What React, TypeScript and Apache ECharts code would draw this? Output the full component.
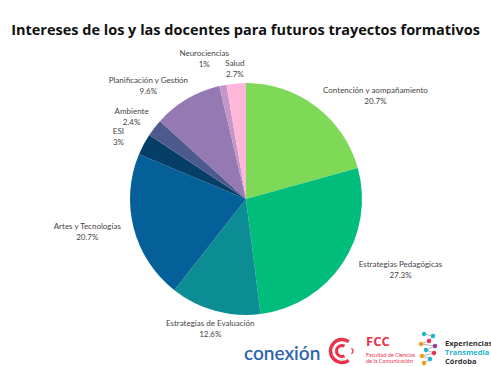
import React, { useEffect, useRef } from "react";
import * as echarts from "echarts";

const TITLE = "Intereses de los y las docentes para futuros trayectos formativos";
const categories = [
  "Contención y aompañamiento",
  "Estrategias Pedagógicas",
  "Estrategias de Evaluación",
  "Artes y Tecnologías",
  "ESI",
  "Ambiente",
  "Planificación y Gestión",
  "Neurociencias",
  "Salud",
];
const values = [20.7, 27.3, 12.6, 20.7, 3, 2.4, 9.6, 1, 2.7];
const colors = [
  "#7ed957",
  "#00bd7c",
  "#0c8d93",
  "#05609a",
  "#053e67",
  "#4e5a8e",
  "#9479b3",
  "#c495c9",
  "#ffb7d9",
];
// label placement: [angle nudge in degrees, distance from centre in px]
const labelPlacement: [number, number][] = [
  [14, 166],
  [-9, 170],
  [0, 134],
  [3, 162],
  [-2, 142],
  [-2, 141],
  [-10, 150],
  [-5, 147],
  [0, 131],
];

const CX = 246;
const CY = 199;

export default function App() {
  const ref = useRef<HTMLDivElement>(null);
  useEffect(() => {
    document.body.style.margin = "0";
    const chart = echarts.init(ref.current!, null, { renderer: "svg" });
    const red = "#e9334b";
    const total = values.reduce((a, b) => a + b, 0);
    const mids: number[] = [];
    let acc = 0;
    values.forEach((v) => {
      mids.push(((acc + v / 2) / total) * 360);
      acc += v;
    });
    const moleculeDots = [
      { x: 424, y: 334, c: "#1fb5c8" },
      { x: 433, y: 336, c: "#1fb5c8" },
      { x: 429, y: 341, c: "#e8334a" },
      { x: 421, y: 344, c: "#f39a1e" },
      { x: 435, y: 346, c: "#9b3b96" },
      { x: 426, y: 350, c: "#1fb5c8" },
      { x: 434, y: 353, c: "#e8334a" },
      { x: 422, y: 356, c: "#f39a1e" },
      { x: 430, y: 359, c: "#1fb5c8" },
      { x: 424, y: 363, c: "#f39a1e" },
    ];
    chart.setOption({
      animation: false,
      backgroundColor: "#ffffff",
      title: {
        text: TITLE,
        left: "center",
        top: 17,
        textStyle: {
          fontFamily: "Open Sans",
          fontWeight: "bold",
          fontSize: 14.5,
          color: "#111111",
        },
      },
      series: [
        {
          type: "pie",
          center: [CX, CY],
          radius: 116,
          startAngle: 90,
          clockwise: true,
          data: categories.map((n, i) => ({
            name: n,
            value: values[i],
            itemStyle: { color: colors[i] },
          })),
          label: {
            show: true,
            position: "outside",
            formatter: (p: any) => `${p.name}\n${p.value}%`,
            fontFamily: "Lato",
            fontSize: 8,
            lineHeight: 11,
            color: "#444444",
            align: "center",
          },
          labelLine: { show: false },
          labelLayout: (p: any) => {
            const i = p.dataIndex;
            const [nudge, dist] = labelPlacement[i];
            const a = ((mids[i] + nudge) * Math.PI) / 180;
            return {
              x: CX + dist * Math.sin(a),
              y: CY - dist * Math.cos(a),
              align: "center",
              verticalAlign: "middle",
            };
          },
          emphasis: { disabled: true },
        },
      ],
      graphic: [
        {
          type: "text",
          x: 244,
          y: 352,
          style: {
            text: "conexión",
            fontFamily: "Lato",
            fontWeight: 600,
            fontSize: 19,
            fill: "#2e64ab",
            verticalAlign: "middle",
          },
        },
        {
          type: "arc",
          shape: { cx: 342, cy: 351, r: 11.5, startAngle: Math.PI * 0.3, endAngle: Math.PI * 1.7, clockwise: true },
          style: { stroke: red, lineWidth: 3.5, fill: "none" },
        },
        {
          type: "arc",
          shape: { cx: 342, cy: 351, r: 5.5, startAngle: Math.PI * 0.35, endAngle: Math.PI * 1.65, clockwise: true },
          style: { stroke: red, lineWidth: 3, fill: "none" },
        },
        {
          type: "arc",
          shape: { cx: 350, cy: 351, r: 3, startAngle: -Math.PI * 0.35, endAngle: Math.PI * 0.35, clockwise: true },
          style: { stroke: red, lineWidth: 1.3, fill: "none" },
        },
        {
          type: "text",
          x: 366,
          y: 341,
          style: {
            text: "FCC",
            fontFamily: "Open Sans",
            fontWeight: "bold",
            fontSize: 13,
            fill: red,
            verticalAlign: "middle",
          },
        },
        {
          type: "text",
          x: 366,
          y: 358,
          style: {
            text: "Facultad de Ciencias\nde la Comunicación",
            fontFamily: "Lato",
            fontSize: 5.5,
            lineHeight: 6.5,
            fill: red,
            verticalAlign: "middle",
          },
        },
        {
          type: "polyline",
          shape: {
            points: moleculeDots.map((d) => [d.x, d.y]),
          },
          style: { stroke: "#9aa0a6", lineWidth: 0.8, fill: "none" },
        },
        ...moleculeDots.map((d) => ({
          type: "circle",
          shape: { cx: d.x, cy: d.y, r: 2.2 },
          style: { fill: d.c },
        })),
        {
          type: "text",
          x: 445,
          y: 343,
          style: { text: "Experiencias", fontFamily: "Open Sans", fontWeight: "bold", fontSize: 7.5, fill: "#333333", verticalAlign: "middle" },
        },
        {
          type: "text",
          x: 445,
          y: 352,
          style: { text: "Transmedia", fontFamily: "Open Sans", fontWeight: "bold", fontSize: 7.5, fill: "#1fb5c8", verticalAlign: "middle" },
        },
        {
          type: "text",
          x: 445,
          y: 361,
          style: { text: "Córdoba", fontFamily: "Open Sans", fontWeight: "bold", fontSize: 7.5, fill: "#333333", verticalAlign: "middle" },
        },
      ],
    });
    return () => chart.dispose();
  }, []);
  return (
    <div
      ref={ref}
      style={{ position: "fixed", left: 0, top: 0, width: 491, height: 367 }}
    />
  );
}
